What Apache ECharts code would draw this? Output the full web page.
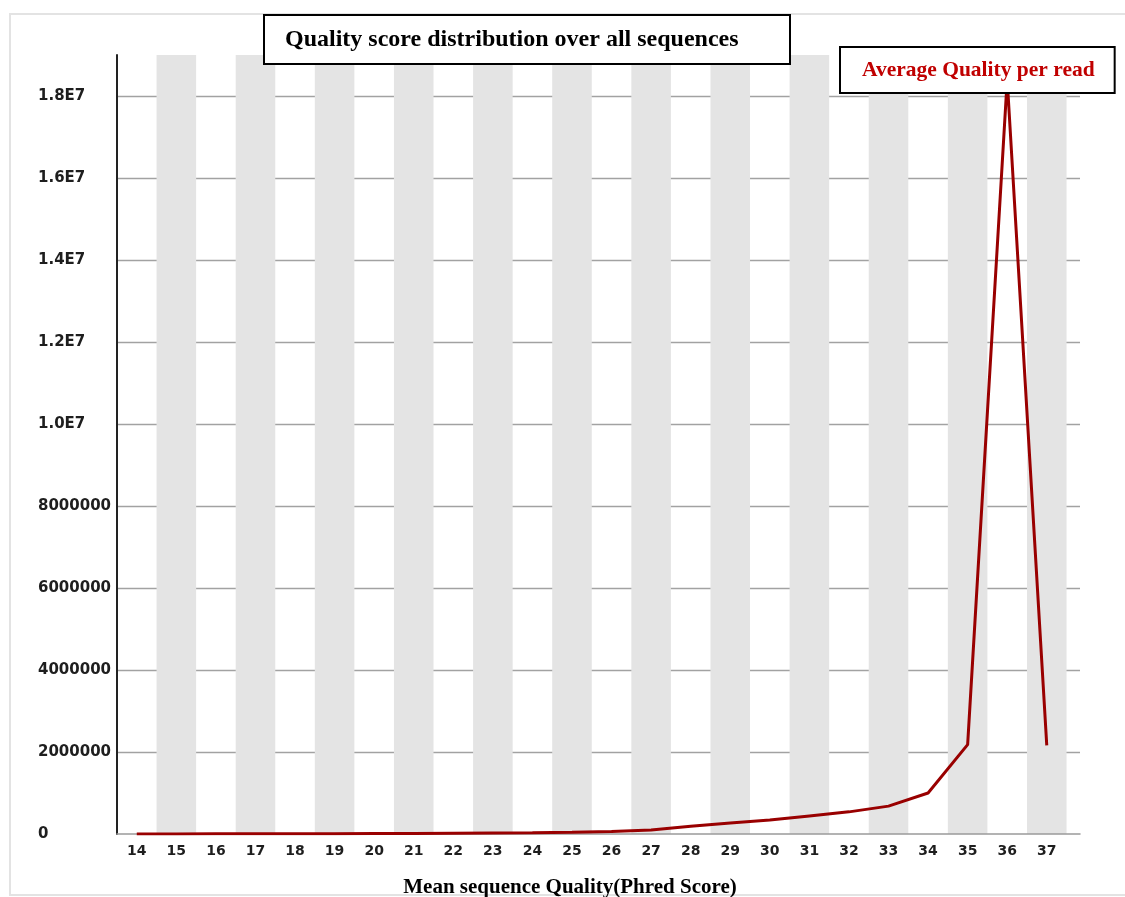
<!DOCTYPE html>
<html>
<head>
<meta charset="utf-8">
<title>Quality score distribution over all sequences</title>
<script src="https://cdn.jsdelivr.net/npm/echarts@6/dist/echarts.min.js"></script>
<style>
  html, body { margin: 0; padding: 0; background: #ffffff; }
  #chart { width: 1125px; height: 897px; }
</style>
</head>
<body>
<div id="chart"></div>
<script>
// Mean Phred quality per read (x) and number of reads with that mean (y)
const qualities = [14, 15, 16, 17, 18, 19, 20, 21, 22, 23, 24, 25,
                   26, 27, 28, 29, 30, 31, 32, 33, 34, 35, 36, 37];
const readCounts = [2000, 3000, 4000, 5000, 7000, 9000, 12000, 15000, 19000, 24000, 30000, 40000,
                    60000, 100000, 190000, 270000, 340000, 440000, 540000, 680000, 1000000, 2180000, 18400000, 2160000];

// Y-axis tick labels, one per 2,000,000 step
const yTickValues = [0, 2000000, 4000000, 6000000, 8000000, 10000000, 12000000, 14000000, 16000000, 18000000];
const yTickLabels = ['0', '2000000', '4000000', '6000000', '8000000', '1.0E7', '1.2E7', '1.4E7', '1.6E7', '1.8E7'];

const seriesName = 'Average Quality per read';
const chartTitle = 'Quality score distribution over all sequences';
const xAxisTitle = 'Mean sequence Quality(Phred Score)';

const chart = echarts.init(document.getElementById('chart'), null, { renderer: 'canvas' });

const labelFont = {
  fontFamily: 'DejaVu Sans',
  fontWeight: 'bold',
  color: '#1e1e1e'
};

chart.setOption({
  backgroundColor: '#ffffff',
  animation: false,
  graphic: [{
    type: 'rect',
    z: -10,
    silent: true,
    shape: { x: 10, y: 14, width: 1130, height: 881 },
    style: { fill: 'none', stroke: '#e3e3e3', lineWidth: 2 }
  }],
  title: [{
    text: chartTitle,
    left: 264,
    top: 15,
    padding: [13, 52, 12, 21],
    borderColor: '#000000',
    borderWidth: 2,
    backgroundColor: '#ffffff',
    textStyle: {
      fontFamily: 'Liberation Serif',
      fontWeight: 'bold',
      fontSize: 24,
      color: '#000000'
    }
  }],
  legend: {
    data: [seriesName],
    left: 840,
    top: 47,
    padding: [12, 20, 12, 17],
    borderColor: '#000000',
    borderWidth: 2,
    backgroundColor: '#ffffff',
    icon: 'none',
    itemWidth: 0,
    selectedMode: false,
    textStyle: {
      fontFamily: 'Liberation Serif',
      fontWeight: 'bold',
      fontSize: 21.5,
      color: '#c00000'
    }
  },
  grid: {
    left: 117,
    right: 45,
    top: 55,
    bottom: 63,
    containLabel: false,
    outerBoundsMode: 'none'
  },
  xAxis: {
    type: 'value',
    min: 13.5,
    max: 37.84,
    interval: 1,
    name: xAxisTitle,
    nameLocation: 'middle',
    nameGap: 43,
    nameTextStyle: {
      fontFamily: 'Liberation Serif',
      fontWeight: 'bold',
      fontSize: 21,
      color: '#000000',
      padding: [0, 57, 0, 0]
    },
    axisLine: { show: true, lineStyle: { color: '#9a9a9a', width: 1.5 } },
    axisTick: { show: false },
    axisLabel: Object.assign({
      fontSize: 14,
      margin: 10,
      customValues: qualities,
      formatter: v => String(v)
    }, labelFont),
    splitLine: { show: false },
    splitArea: {
      show: true,
      areaStyle: { color: ['rgba(255,255,255,0)', '#e4e4e4'] }
    }
  },
  yAxis: {
    type: 'value',
    min: 0,
    max: 19000000,
    interval: 2000000,
    axisLine: { show: true, lineStyle: { color: '#222222', width: 2 } },
    axisTick: { show: false },
    axisLabel: Object.assign({
      fontSize: 15,
      align: 'left',
      margin: 79,
      padding: [5, 0, 0, 0],
      showMaxLabel: false,
      formatter: v => {
        const i = yTickValues.indexOf(v);
        return i >= 0 ? yTickLabels[i] : '';
      }
    }, labelFont),
    splitLine: {
      show: true,
      showMinLine: false,
      showMaxLine: false,
      lineStyle: { color: '#a2a2a2', width: 1.3 }
    }
  },
  series: [{
    name: seriesName,
    type: 'line',
    data: qualities.map((q, i) => [q, readCounts[i]]),
    showSymbol: false,
    symbol: 'none',
    lineStyle: { color: '#990000', width: 3 },
    itemStyle: { color: '#990000' },
    z: 2
  }]
});
</script>
</body>
</html>
